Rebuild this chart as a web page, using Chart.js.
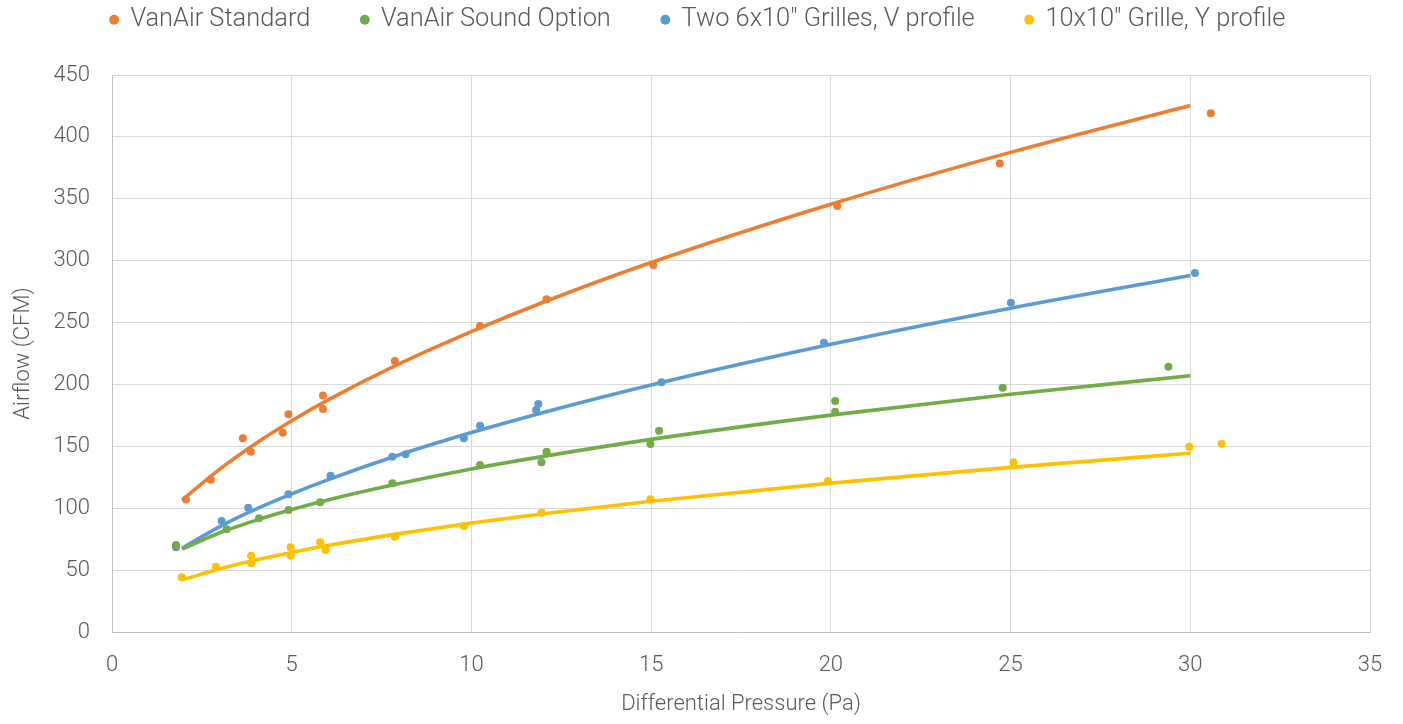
<!DOCTYPE html>
<html>
<head>
<meta charset="utf-8">
<script src="https://cdn.jsdelivr.net/npm/chart.js@4"></script>
<style>
    html, body { margin: 0; padding: 0; background: #fff; }
    #chartBox { width: 1403px; height: 724px; }
</style>
</head>
<body>
<div id="chartBox"><canvas id="airflowChart"></canvas></div>
<script>
// measured points (Pa, CFM)
const standardX = [2.06, 2.75, 3.64, 3.86, 4.75, 4.91, 5.87, 5.87, 7.87, 10.24, 12.09, 15.06, 20.18, 24.7, 30.57];
const standardY = [107, 123, 156.5, 145.7, 161, 176, 191, 180.2, 219, 247.2, 268.8, 296.5, 344.2, 378.6, 419];

const soundX = [1.78, 3.19, 4.09, 4.91, 5.79, 7.8, 10.24, 11.95, 12.09, 14.98, 15.22, 20.12, 20.12, 24.78, 29.39];
const soundY = [70.3, 83, 91.9, 98.6, 104.8, 120.1, 134.9, 137.1, 145.7, 151.9, 162.6, 186.6, 178, 197.4, 214.3];

const twoGrillesX = [1.78, 3.05, 3.79, 4.91, 6.08, 7.8, 8.17, 9.79, 10.24, 11.8, 11.86, 15.29, 19.81, 25.01, 30.13];
const twoGrillesY = [68.4, 89.7, 100.4, 111.2, 126.3, 141.6, 143.6, 156.5, 166.7, 179.4, 184.2, 201.7, 233.7, 266, 290];

const oneGrilleX = [1.94, 2.89, 3.87, 3.87, 4.97, 4.97, 5.79, 5.94, 7.87, 9.79, 11.95, 14.98, 19.92, 25.08, 29.97, 30.87];
const oneGrilleY = [44.2, 52.8, 61.7, 55.5, 68.4, 61.7, 72.5, 66.2, 77, 85.6, 96.4, 107.2, 122, 137.1, 149.7, 152.1];

// trendlines
const trendX = [1.95, 3, 4, 5, 6, 8, 10, 12, 15, 20, 25, 30];
const standardTrend = [106.6, 131.6, 152.3, 170.7, 187.3, 216.8, 242.7, 266.4, 298.5, 345.6, 387.5, 425.3];
const soundTrend = [67, 80.2, 90.2, 98.9, 106.7, 120, 131.7, 141.9, 155.6, 175.2, 192.1, 207];
const twoGrillesTrend = [67.8, 85.2, 99.2, 111.6, 122.9, 143.2, 161.1, 177.4, 199.6, 232.4, 261.6, 288];
const oneGrilleTrend = [42.1, 51.1, 58.2, 64.3, 69.9, 79.5, 88, 95.5, 105.6, 120.3, 133, 144.4];

const seriesNames = ['VanAir Standard', 'VanAir Sound Option', 'Two 6x10" Grilles, V profile', '10x10" Grille, Y profile'];
const seriesColors = ['#ED7D31', '#70AD47', '#5B9BD5', '#FFC000'];

const toPoints = (xs, ys) => xs.map((x, i) => ({ x: x, y: ys[i] }));

const pointSets = [
    toPoints(standardX, standardY),
    toPoints(soundX, soundY),
    toPoints(twoGrillesX, twoGrillesY),
    toPoints(oneGrilleX, oneGrilleY),
];
const trendSets = [standardTrend, soundTrend, twoGrillesTrend, oneGrilleTrend].map((ys) => toPoints(trendX, ys));

const textColor = '#595959';
const gridColor = '#d9d9d9';
const fontFamily = 'Roboto, "Noto Sans", sans-serif';

// trend lines first so they draw on top of the dots
const datasets = [];
trendSets.forEach((data, i) => {
    datasets.push({
        label: seriesNames[i] + ' trend',
        data: data,
        showLine: true,
        borderColor: seriesColors[i],
        backgroundColor: seriesColors[i],
        borderWidth: 3.6,
        pointRadius: 0,
        cubicInterpolationMode: 'monotone',
        isTrend: true,
    });
});
pointSets.forEach((data, i) => {
    datasets.push({
        label: seriesNames[i],
        data: data,
        showLine: false,
        borderColor: seriesColors[i],
        backgroundColor: seriesColors[i],
        pointRadius: 4,
        pointBorderWidth: 0,
    });
});

// fixed legend block height so the plot starts where the reference does,
// and a small nudge to the right to centre it like the original
const legendHeightPlugin = {
    id: 'legendHeight',
    beforeLayout(chart) {
        const lg = chart.legend;
        if (lg && !lg._fixedFit) {
            const origFit = lg.fit;
            lg.fit = function () {
                origFit.call(this);
                this.height = 119;
            };
            lg._fixedFit = true;
        }
    },
    afterLayout(chart) {
        const lg = chart.legend;
        if (lg) {
            lg.left += 13;
            lg.right += 13;
        }
    },
};

new Chart(document.getElementById('airflowChart'), {
    type: 'scatter',
    data: { datasets: datasets },
    plugins: [legendHeightPlugin],
    options: {
        responsive: true,
        maintainAspectRatio: false,
        animation: false,
        layout: { padding: { left: 0, right: 33, top: -44, bottom: 0 } },
        plugins: {
            legend: {
                position: 'top',
                labels: {
                    filter: (item, data) => !data.datasets[item.datasetIndex].isTrend,
                    usePointStyle: true,
                    pointStyle: 'circle',
                    boxWidth: 7,
                    boxHeight: 7,
                    padding: 51,
                    color: textColor,
                    font: { family: fontFamily, size: 25.4, weight: 300 },
                },
            },
            tooltip: { enabled: false },
        },
        scales: {
            x: {
                type: 'linear',
                min: 0,
                max: 35,
                ticks: { stepSize: 5, padding: 20, color: textColor, font: { family: fontFamily, size: 22, weight: 300 } },
                grid: { color: gridColor, lineWidth: 1, drawTicks: false },
                border: { color: '#bfbfbf', width: 1 },
                title: {
                    display: true,
                    text: 'Differential Pressure (Pa)',
                    color: textColor,
                    font: { family: fontFamily, size: 22, weight: 300 },
                    padding: { top: 0, bottom: 6 },
                },
                afterFit: (scale) => { scale.height = 92; },
            },
            y: {
                min: 0,
                max: 450,
                ticks: { stepSize: 50, padding: 22, color: textColor, font: { family: fontFamily, size: 22, weight: 300 } },
                grid: { color: gridColor, lineWidth: 1, drawTicks: false },
                border: { color: '#bfbfbf', width: 1 },
                title: {
                    display: true,
                    text: 'Airflow (CFM)',
                    color: textColor,
                    font: { family: fontFamily, size: 22, weight: 300 },
                    padding: { top: 10, bottom: 0 },
                },
                afterFit: (scale) => { scale.width = 112; },
            },
        },
    },
});
</script>
</body>
</html>
